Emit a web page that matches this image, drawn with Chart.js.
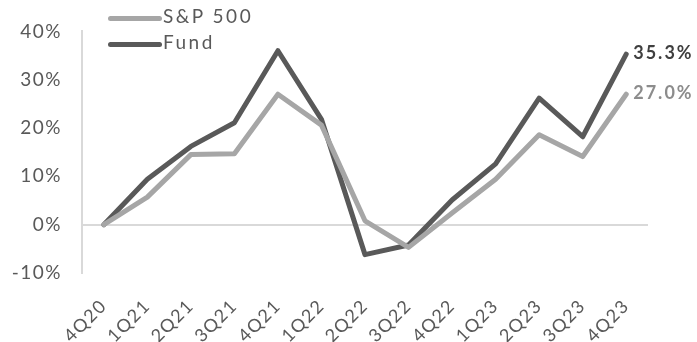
<!DOCTYPE html>
<html>
<script src="https://cdn.jsdelivr.net/npm/chart.js@4.4.0/dist/chart.umd.min.js"></script>
<body style="margin:0;background:#fff;">
<div style="position:relative;width:697px;height:342px;">
<canvas id="perfChart" width="697" height="342"></canvas>
<div id="legend" style="position:absolute;left:108px;top:3px;font-family:Lato,sans-serif;font-size:19px;letter-spacing:2.5px;color:#595959;line-height:26px;"></div>
</div>

<script>
var quarters = ['4Q20','1Q21','2Q21','3Q21','4Q21','1Q22','2Q22','3Q22','4Q22','1Q23','2Q23','3Q23','4Q23'];
var spx = [0, 5.7, 14.5, 14.7, 27.0, 20.6, 0.8, -4.7, 2.4, 9.4, 18.6, 14.1, 27.0];
var fund = [0, 9.4, 16.2, 21.1, 36.0, 21.8, -6.2, -4.2, 5.1, 12.6, 26.2, 18.2, 35.3];
var yTicks = [-10, 0, 10, 20, 30, 40];

var seriesInfo = [
  {label: 'S&P 500', data: spx, color: '#a6a6a6', endColor: '#8c8c8c'},
  {label: 'Fund', data: fund, color: '#595959', endColor: '#3f3f3f'}
];

var legendBox = document.getElementById('legend');
seriesInfo.forEach(function(s){
  legendBox.innerHTML += '<div><span style="display:inline-block;width:54px;height:5px;border-radius:3px;background:' + s.color + ';vertical-align:middle;margin-right:1px;"></span>' + s.label + '</div>';
});

// wider text like the original typeface
var spacing = {
  id: 'spacing',
  beforeUpdate: function(chart){ chart.ctx.letterSpacing = '1.5px'; },
  beforeDraw: function(chart){ chart.ctx.letterSpacing = '1.5px'; }
};

var endLabels = {
  id: 'endLabels',
  afterDatasetsDraw: function(chart){
    var ctx = chart.ctx;
    ctx.save();
    ctx.font = 'bold 18px Lato, sans-serif';
    ctx.letterSpacing = '2px';
    ctx.textBaseline = 'middle';
    chart.data.datasets.forEach(function(ds, i){
      var meta = chart.getDatasetMeta(i);
      var pt = meta.data[meta.data.length - 1];
      ctx.fillStyle = seriesInfo[i].endColor;
      ctx.fillText(ds.data[ds.data.length - 1].toFixed(1) + '%', pt.x + 7, pt.y - 1);
    });
    ctx.restore();
  }
};

new Chart('perfChart', {
  type: 'line',
  data: {
    labels: quarters,
    datasets: seriesInfo.map(function(s){
      return {
        label: s.label,
        data: s.data,
        borderColor: s.color,
        borderWidth: 5,
        borderCapStyle: 'round',
        borderJoinStyle: 'round',
        pointRadius: 0,
        fill: false,
        tension: 0
      };
    })
  },
  options: {
    responsive: false,
    animation: false,
    layout: {padding: {top: 18, right: 49, left: 0, bottom: 0}},
    plugins: {legend: {display: false}, tooltip: {enabled: false}},
    scales: {
      x: {
        offset: true,
        grid: {display: false},
        border: {display: false},
        ticks: {
          maxRotation: 45, minRotation: 45,
          color: '#595959',
          font: {family: 'Lato', size: 18},
          padding: 14
        },
        afterFit: function(axis){ axis.height = 69; }
      },
      y: {
        min: -10, max: 40,
        afterBuildTicks: function(axis){ axis.ticks = yTicks.map(function(v){ return {value: v}; }); },
        grid: {
          drawTicks: false,
          lineWidth: 2,
          color: function(c){ return c.tick && c.tick.value === 0 ? '#d9d9d9' : 'rgba(0,0,0,0)'; }
        },
        border: {display: true, color: '#d9d9d9', width: 2},
        ticks: {
          color: '#595959',
          font: {family: 'Lato', size: 19},
          padding: 20,
          callback: function(v){ return v + '%'; }
        },
        afterFit: function(axis){ axis.width = 82; }
      }
    }
  },
  plugins: [spacing, endLabels]
});
</script>
</body>
</html>
